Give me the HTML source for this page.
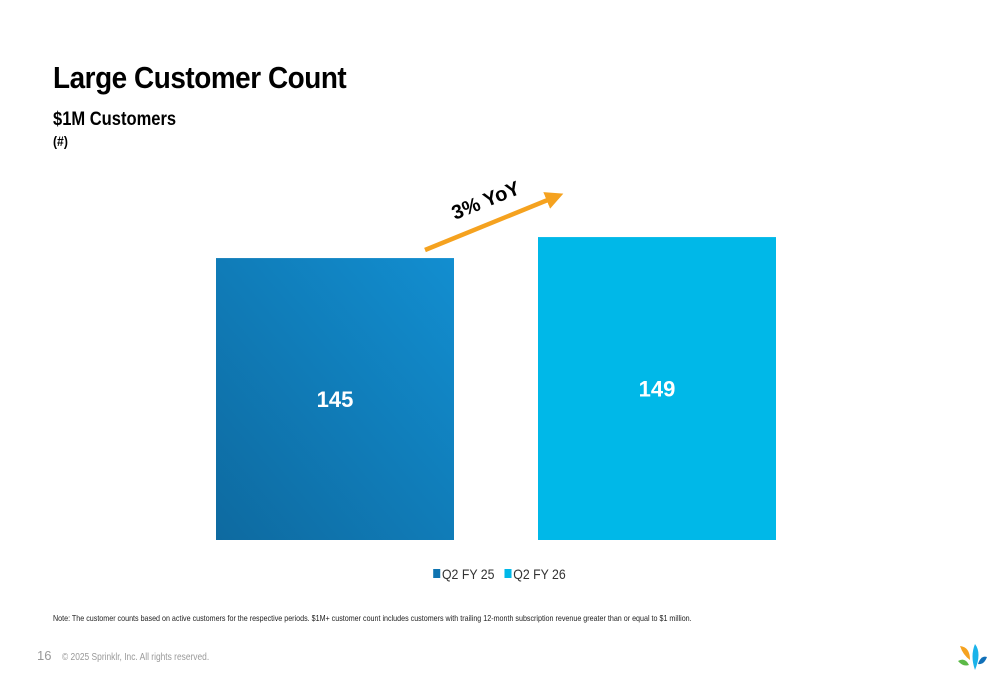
<!DOCTYPE html>
<html><head><meta charset="utf-8"><style>
body{margin:0;width:1000px;height:685px;background:#fff;font-family:"Liberation Sans",sans-serif;position:relative;overflow:hidden}
.t{position:absolute;margin:0;transform-origin:0 0;white-space:nowrap}
</style></head><body>
<h1 class="t" style="left:53px;top:60px;font-size:31px;font-weight:bold;letter-spacing:-0.5px;color:#000;transform:scaleX(0.9)">Large Customer Count</h1>
<div class="t" style="left:53px;top:109px;font-size:19px;font-weight:bold;transform:scaleX(0.87)">$1M Customers</div>
<div class="t" style="left:53px;top:133px;font-size:14px;font-weight:bold;transform:scaleX(0.87)">(#)</div>
<svg id="chart" width="1000" height="685" style="position:absolute;left:0;top:0">
<defs><linearGradient id="g1" x1="0" y1="1" x2="1" y2="0"><stop offset="0" stop-color="#0e6aa0"/><stop offset="1" stop-color="#128ed0"/></linearGradient>
<marker id="ah" markerWidth="4" markerHeight="4" refX="2" refY="2" orient="auto"><path d="M0,0L4,2L0,4z" fill="#f5a21f"/></marker></defs>
<g id="bars"></g>
<line x1="425" y1="250" x2="555" y2="197" stroke="#f5a21f" stroke-width="4.5" marker-end="url(#ah)"/>
<text transform="translate(455,220) rotate(-22)" font-size="20" font-weight="bold" fill="#000" font-family="Liberation Sans">3% YoY</text>
<g font-size="14" fill="#333" transform="translate(442,0) scale(0.88,1) translate(-442,0)">
<rect x="432" y="569" width="8" height="9" fill="#0f74b1"/><text x="442" y="579">Q2 FY 25</text>
<rect x="513" y="569" width="8" height="9" fill="#00b8e8"/><text x="523" y="579">Q2 FY 26</text>
</g>
</svg>
<div class="t" style="left:53px;top:613px;font-size:8.5px;color:#222;transform:scaleX(0.84)">Note: The customer counts based on active customers for the respective periods. $1M+ customer count includes customers with trailing 12-month subscription revenue greater than or equal to $1 million.</div>
<div class="t" style="left:37px;top:648px;font-size:13px;color:#999">16</div>
<div class="t" style="left:62px;top:652px;font-size:10px;color:#999;transform:scaleX(0.84)">© 2025 Sprinklr, Inc. All rights reserved.</div>
<svg width="30" height="28" viewBox="0 0 30 28" style="position:absolute;left:958px;top:644px">
<path d="M2,2 Q12,3 12,16 Q5,11 2,2z" fill="#f5a21f"/><path d="M17,0 Q24,9 17,26 Q12,12 17,0z" fill="#1ab3ea"/>
<path d="M0,17 Q7,13 11,21 Q5,23 0,17z" fill="#5bb947"/><path d="M20,20 Q23,11 29,13 Q26,21 20,20z" fill="#1170b8"/></svg>
<script>
const categories=["Q2 FY 25","Q2 FY 26"];
const values=[145,149];
const colors=["url(#g1)","#00b8e8"];
const y=v=>540-(v-91.3)*5.25;
const x=i=>216+i*322;
const g=document.getElementById('bars');
const ns="http://www.w3.org/2000/svg";
values.forEach((v,i)=>{
 const r=document.createElementNS(ns,'rect');
 
 
 r.setAttribute('x',x(i));r.setAttribute('width',238);r.setAttribute('y',y(v));r.setAttribute('height',540-y(v));r.setAttribute('fill',colors[i]);
 g.appendChild(r);
 const t=document.createElementNS(ns,'text');
 
 
 t.setAttribute('x',x(i)+119);t.setAttribute('y',(y(v)+540)/2+8);t.setAttribute('text-anchor','middle');
 t.setAttribute('fill','#fff');t.setAttribute('font-size','22');t.setAttribute('font-weight','bold');
 t.textContent=v;g.appendChild(t);
});
</script>
</body></html>
